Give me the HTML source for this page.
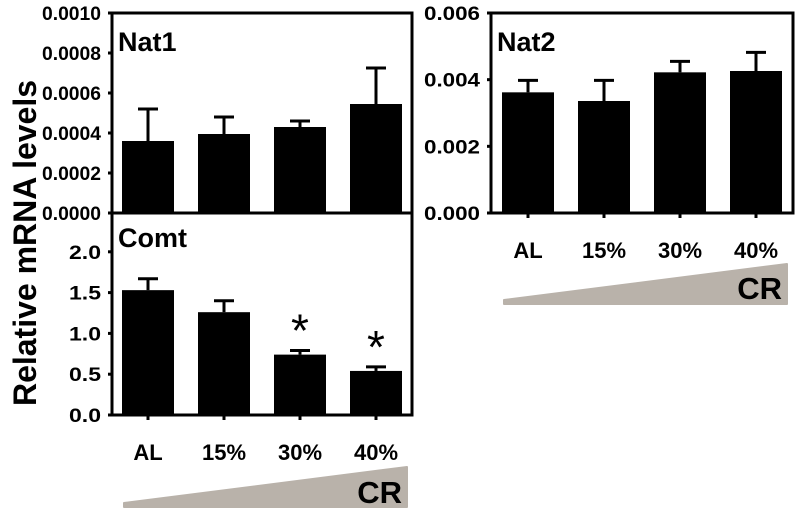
<!DOCTYPE html>
<html><head><meta charset="utf-8"><style>
html,body{margin:0;padding:0;background:#fff;}
svg{display:block;font-family:"Liberation Sans",Arial,sans-serif;font-weight:bold;}
</style></head><body>
<svg id="chart" width="800" height="515" viewBox="0 0 800 515"></svg>
<script>
const categories = ["AL","15%","30%","40%"];
const nat1Values = [0.00036,0.000395,0.00043,0.000545];
const nat1Errors = [0.00052,0.00048,0.00046,0.000725];
const nat1Ticks = ["0.0000","0.0002","0.0004","0.0006","0.0008","0.0010"];
const comtValues = [1.53,1.26,0.74,0.54];
const comtErrors = [1.67,1.40,0.79,0.59];
const comtTicks = ["0.0","0.5","1.0","1.5","2.0"];
const comtSig = [false,false,true,true];
const nat2Values = [0.00362,0.00336,0.00422,0.00426];
const nat2Errors = [0.00398,0.00398,0.00455,0.00482];
const nat2Ticks = ["0.000","0.002","0.004","0.006"];

const NS="http://www.w3.org/2000/svg";
const svg=document.getElementById('chart');
function el(tag,attrs,parent){const e=document.createElementNS(NS,tag);for(const k in attrs)e.setAttribute(k,attrs[k]);(parent||svg).appendChild(e);return e;}

function panel(cfg){
  const g=el('g',{});
  
  
  const y=v=>cfg.y0-(v-cfg.min)/(cfg.max-cfg.min)*(cfg.y0-cfg.yTop);
  const x=i=>cfg.x0+cfg.first+i*cfg.step;
  cfg.values.forEach((v,i)=>{
    const eb=el('line',{x1:x(i),x2:x(i),y1:y(v),y2:y(cfg.errors[i]),stroke:'#000','stroke-width':3},g);
    
    
    const cap=el('line',{x1:x(i)-10,x2:x(i)+10,y1:y(cfg.errors[i]),y2:y(cfg.errors[i]),stroke:'#000','stroke-width':3},g);
    
    
    const r=el('rect',{x:x(i)-26,y:y(v),width:52,height:cfg.y0-y(v),fill:'#000'},g);
    
    
    if(cfg.sig&&cfg.sig[i]){
      const s=el('text',{x:x(i),y:y(cfg.errors[i])-4,'text-anchor':'middle','font-size':46,'font-weight':'normal'},g);
      s.textContent='*';
      
      
    }
  });
  cfg.ticks.forEach((t,i)=>{
    const v=cfg.min+i*cfg.tickStep;
    const tk=el('line',{x1:cfg.x0-4,x2:cfg.x0,y1:y(v),y2:y(v),stroke:'#000','stroke-width':3},g);
    
    
    const tl=el('text',{x:cfg.x0-11,y:y(v)+7,'text-anchor':'end','font-size':19.5,textLength:cfg.labelW,lengthAdjust:'spacingAndGlyphs'},g);
    tl.textContent=t;
    
    
  });
  if(cfg.xlabels){
    categories.forEach((c,i)=>{
      const tk=el('line',{x1:x(i),x2:x(i),y1:cfg.y0,y2:cfg.y0+5,stroke:'#000','stroke-width':3},g);
      
      
      const tl=el('text',{x:x(i),y:cfg.y0+45,'text-anchor':'middle','font-size':22},g);
      tl.textContent=c;
      
      
    });
  }
  const tt=el('text',{x:cfg.x0+6,y:cfg.titleY,'font-size':27},g);
  tt.textContent=cfg.title;
  
  
  return {g,y,x};
}

panel({name:'nat1',title:'Nat1',values:nat1Values,errors:nat1Errors,ticks:nat1Ticks,min:0,max:0.001,tickStep:0.0002,x0:112,y0:213,yTop:13,first:36,step:76,titleY:51,labelW:59});
panel({name:'comt',title:'Comt',values:comtValues,errors:comtErrors,ticks:comtTicks,min:0,max:2.5,tickStep:0.5,x0:112,y0:415,yTop:211,first:36,step:76,titleY:247,xlabels:true,sig:comtSig,labelW:32});
panel({name:'nat2',title:'Nat2',values:nat2Values,errors:nat2Errors,ticks:nat2Ticks,min:0,max:0.006,tickStep:0.002,x0:491,y0:213,yTop:13,first:37,step:76,titleY:51,xlabels:true,labelW:56});

let f=el('rect',{x:112,y:13,width:300,height:402,fill:'none',stroke:'#000','stroke-width':3});

f=el('line',{x1:112,x2:412,y1:213,y2:213,stroke:'#000','stroke-width':3});

f=el('rect',{x:491,y:13,width:302,height:200,fill:'none',stroke:'#000','stroke-width':3});


let w=el('path',{d:'M124,503 L124,507 L407,507 L407,467 Z',fill:'#b9b2aa','stroke':'#b9b2aa','stroke-width':2,'stroke-linejoin':'round'});

let t=el('text',{x:402,y:503,'text-anchor':'end','font-size':31});t.textContent='CR';

w=el('path',{d:'M504,300 L504,304 L787,304 L787,264 Z',fill:'#b9b2aa','stroke':'#b9b2aa','stroke-width':2,'stroke-linejoin':'round'});

t=el('text',{x:782,y:299,'text-anchor':'end','font-size':31});t.textContent='CR';


t=el('text',{x:0,y:0,'text-anchor':'middle','font-size':32,transform:'translate(36,243) rotate(-90)'});
t.textContent='Relative mRNA levels';

</script>
</body></html>
